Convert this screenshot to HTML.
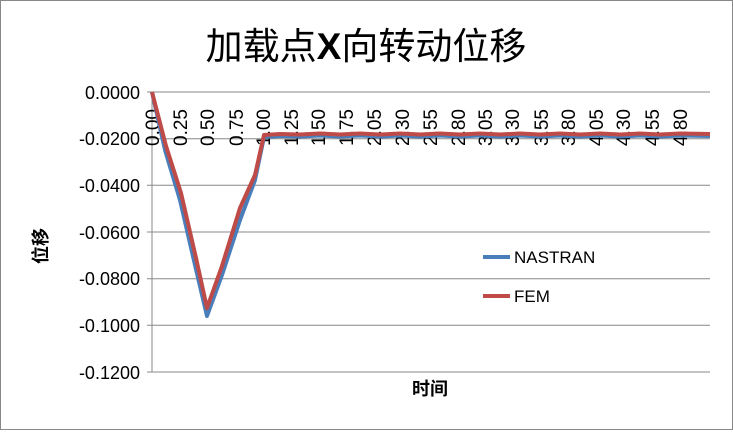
<!DOCTYPE html>
<html><head><meta charset="utf-8"><style>
body{margin:0;background:#fff}
svg text{font-family:"Liberation Sans","Noto Sans CJK SC",sans-serif}
</style></head><body>
<svg width="733" height="430" viewBox="0 0 733 430" xmlns="http://www.w3.org/2000/svg">
<rect x="0.5" y="0.5" width="732" height="429" fill="#fff" stroke="#888"/>
<text x="366" y="59" font-size="37" text-anchor="middle" fill="#000">加载点<tspan font-weight="bold">X</tspan>向转动位移</text>
<g stroke="#888" stroke-width="1">
<line x1="147" y1="92" x2="710" y2="92"/>
<line x1="147" y1="185.3" x2="710" y2="185.3"/>
<line x1="147" y1="232" x2="710" y2="232"/>
<line x1="147" y1="278.7" x2="710" y2="278.7"/>
<line x1="147" y1="325.3" x2="710" y2="325.3"/>
<line x1="147" y1="372" x2="710" y2="372"/>
<line x1="147" y1="138.7" x2="710" y2="138.7"/>
<line x1="152" y1="92" x2="152" y2="372"/>
</g>
<g font-size="18" text-anchor="end" fill="#000">
<text x="140" y="99">0.0000</text>
<text x="140" y="145">-0.0200</text>
<text x="140" y="192">-0.0400</text>
<text x="140" y="239">-0.0600</text>
<text x="140" y="285">-0.0800</text>
<text x="140" y="332">-0.1000</text>
<text x="140" y="379">-0.1200</text>
</g>
<g font-size="19" fill="#000">
<text transform="translate(159,146) rotate(-90)">0.00</text>
<text transform="translate(187,146) rotate(-90)">0.25</text>
<text transform="translate(214,146) rotate(-90)">0.50</text>
<text transform="translate(243,146) rotate(-90)">0.75</text>
<text transform="translate(270,146) rotate(-90)">1.00</text>
<text transform="translate(298,146) rotate(-90)">1.25</text>
<text transform="translate(325,146) rotate(-90)">1.50</text>
<text transform="translate(353,146) rotate(-90)">1.75</text>
<text transform="translate(381,146) rotate(-90)">2.05</text>
<text transform="translate(409,146) rotate(-90)">2.30</text>
<text transform="translate(437,146) rotate(-90)">2.55</text>
<text transform="translate(465,146) rotate(-90)">2.80</text>
<text transform="translate(492,146) rotate(-90)">3.05</text>
<text transform="translate(519,146) rotate(-90)">3.30</text>
<text transform="translate(548,146) rotate(-90)">3.55</text>
<text transform="translate(575,146) rotate(-90)">3.80</text>
<text transform="translate(603,146) rotate(-90)">4.05</text>
<text transform="translate(630,146) rotate(-90)">4.30</text>
<text transform="translate(659,146) rotate(-90)">4.55</text>
<text transform="translate(687,146) rotate(-90)">4.80</text>
</g>
<polyline fill="none" stroke="#4a7ebb" stroke-width="4" stroke-linejoin="round" points="152,92 165,150 180,200 195,265 207,316 222,275 240,220 255,180 264,137 280,136 300,136.5 320,135.5 340,136.5 360,135.5 380,136.5 400,135.5 420,136.5 440,135.5 460,136.5 480,135.5 500,136.5 520,135.5 540,136.5 560,135.5 580,136.5 600,135.5 620,136.5 640,135.5 660,136.5 680,135.5 710,136"/>
<polyline fill="none" stroke="#be4b48" stroke-width="4" stroke-linejoin="round" points="152,92 166,146 181,193 196,258 207,308 222,266 240,208 255,175 264,135 280,134 300,134.5 320,133.5 340,134.5 360,133.5 380,134.5 400,133.5 420,134.5 440,133.5 460,134.5 480,133.5 500,134.5 520,133.5 540,134.5 560,133.5 580,134.5 600,133.5 620,134.5 640,133.5 660,134.5 680,133.5 710,134"/>
<line x1="483" y1="257" x2="510" y2="257" stroke="#4a7ebb" stroke-width="4"/>
<text x="514" y="263" font-size="17">NASTRAN</text>
<line x1="483" y1="296" x2="510" y2="296" stroke="#be4b48" stroke-width="4"/>
<text x="514" y="302" font-size="17">FEM</text>
<text transform="translate(47,246) rotate(-90)" font-size="18" font-weight="bold" text-anchor="middle">位移</text>
<text x="430" y="395" font-size="18" font-weight="bold" text-anchor="middle">时间</text>
</svg>
</body></html>
